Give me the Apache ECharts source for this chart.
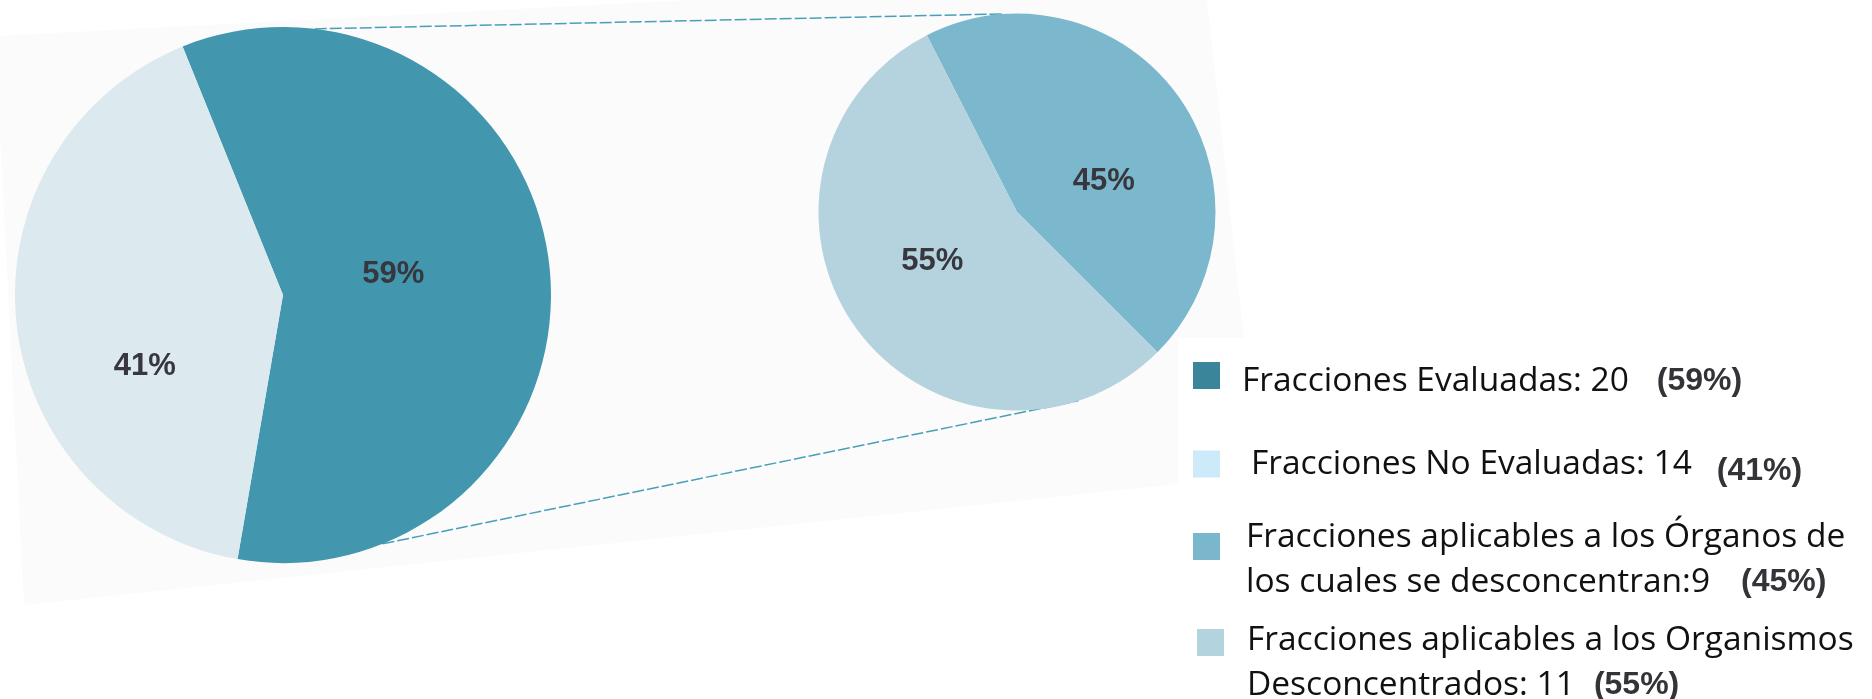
<!DOCTYPE html>
<html>
<head>
<meta charset="utf-8">
<script src="https://cdn.jsdelivr.net/npm/echarts@6/dist/echarts.min.js"></script>
<style>
  html, body { margin: 0; padding: 0; background: #ffffff; }
  #chart { width: 1872px; height: 699px; }
</style>
</head>
<body>
<div id="chart"></div>
<script>
// ---- data ----
const mainNames = ['Fracciones Evaluadas', 'Fracciones No Evaluadas'];
const mainValues = [20, 14];
const subNames = [
  'Fracciones aplicables a los Órganos de los cuales se desconcentran',
  'Fracciones aplicables a los Organismos Desconcentrados'
];
const subValues = [9, 11];
const legendTexts = [
  'Fracciones Evaluadas: 20',
  'Fracciones No Evaluadas: 14',
  'Fracciones aplicables a los Órganos de\nlos cuales se desconcentran:9',
  'Fracciones aplicables a los Organismos\nDesconcentrados: 11'
];

// ---- styling / layout ----
const mainColors = ['#4297ae', '#dce9ef'];
const subColors = ['#7bb8cd', '#b5d3de'];
const legendIconColors = ['#3a8599', '#cdeafb', '#7ab7cc', '#b3d4df'];
const BIG = { cx: 283, cy: 295, r: 268, start: 112 };
const SMALL = { cx: 1017, cy: 212, r: 198.5, start: 117 };
const labelFont = { fontFamily: 'Liberation Sans, Arial, sans-serif', fontWeight: 'bold', fontSize: 31, color: '#37373d' };

const sum = a => a.reduce((s, v) => s + v, 0);
const pct = (v, arr) => Math.round(v / sum(arr) * 100);

function pt(p, angDeg) {
  const a = angDeg * Math.PI / 180;
  return [p.cx + p.r * Math.cos(a), p.cy - p.r * Math.sin(a)];
}

const bigOffsets = [[-26, -6], [-2, 57]];
const smallOffsets = [[4, 30], [-2, -11]];

const allNames = mainNames.concat(subNames);
const allPcts = mainValues.map(v => pct(v, mainValues)).concat(subValues.map(v => pct(v, subValues)));

const legendLayout = [
  { left: 1193, top: 362, pad: [12, 0, 0, 17], pKey: 'p1' },
  { left: 1193, top: 447, pad: [0, 0, 0, 26], pKey: 'p2' },
  { left: 1193, top: 520, pad: [26, 0, 0, 21], pKey: 'p3' },
  { left: 1197, top: 623, pad: [40, 0, 0, 18], pKey: 'p4' }
];
const pBase = { fontFamily: 'Liberation Sans, Arial, sans-serif', fontWeight: 'bold', fontSize: 32, color: '#333338' };
const rich = {
  n: { fontFamily: 'Open Sans, sans-serif', fontSize: 33.5, color: '#111111', lineHeight: 45 },
  p1: Object.assign({}, pBase, { padding: [0, 0, 0, 28] }),
  p2: Object.assign({}, pBase, { padding: [15, 0, 0, 25] }),
  p3: Object.assign({}, pBase, { padding: [0, 0, 0, 31] }),
  p4: Object.assign({}, pBase, { padding: [0, 0, 0, 19] })
};

const legends = legendLayout.map((L, i) => ({
  show: true,
  left: L.left,
  top: L.top,
  orient: 'vertical',
  padding: 0,
  itemWidth: 27,
  itemHeight: 27,
  icon: 'rect',
  selectedMode: false,
  data: [{ name: allNames[i], itemStyle: { color: legendIconColors[i], borderWidth: 0 } }],
  formatter: () => '{n|' + legendTexts[i] + '}{' + L.pKey + '|(' + allPcts[i] + '%)}',
  textStyle: { padding: L.pad, rich: rich }
}));

function pieSeries(geo, names, values, colors, offsets) {
  return {
    type: 'pie',
    center: [geo.cx, geo.cy],
    radius: [0, geo.r],
    startAngle: geo.start,
    clockwise: true,
    silent: true,
    animation: false,
    avoidLabelOverlap: false,
    emphasis: { disabled: true },
    itemStyle: { borderWidth: 0 },
    labelLine: { show: false },
    label: Object.assign({ show: true, position: 'inside',
      formatter: p => Math.round(p.percent) + '%' }, labelFont),
    data: names.map((n, i) => ({
      name: n, value: values[i],
      itemStyle: { color: colors[i] },
      label: { offset: offsets[i] }
    }))
  };
}

const lineStyle = { stroke: '#4a9fb8', lineWidth: 1.5, lineDash: [12, 3] };
const t1 = pt(BIG, 83.2), t2 = pt(SMALL, 93.7);
const b1 = pt(BIG, -68.2), b2 = pt(SMALL, -72);

const option = {
  backgroundColor: '#ffffff',
  animation: false,
  legend: legends,
  graphic: [
    { type: 'polygon', z: 0, silent: true,
      shape: { points: [[-5, 36], [690, 0], [1207, 0], [1244, 338], [1178, 338], [1178, 484], [24, 605]] },
      style: { fill: '#fbfbfb' } },
    { type: 'line', z: 1, silent: true, shape: { x1: t1[0], y1: t1[1], x2: t2[0], y2: t2[1] }, style: lineStyle },
    { type: 'line', z: 1, silent: true, shape: { x1: b1[0], y1: b1[1], x2: b2[0], y2: b2[1] }, style: lineStyle }
  ],
  series: [
    pieSeries(BIG, mainNames, mainValues, mainColors, bigOffsets),
    pieSeries(SMALL, subNames, subValues, subColors, smallOffsets)
  ]
};

const chart = echarts.init(document.getElementById('chart'), null, { renderer: 'canvas' });
chart.setOption(option);
</script>
</body>
</html>
